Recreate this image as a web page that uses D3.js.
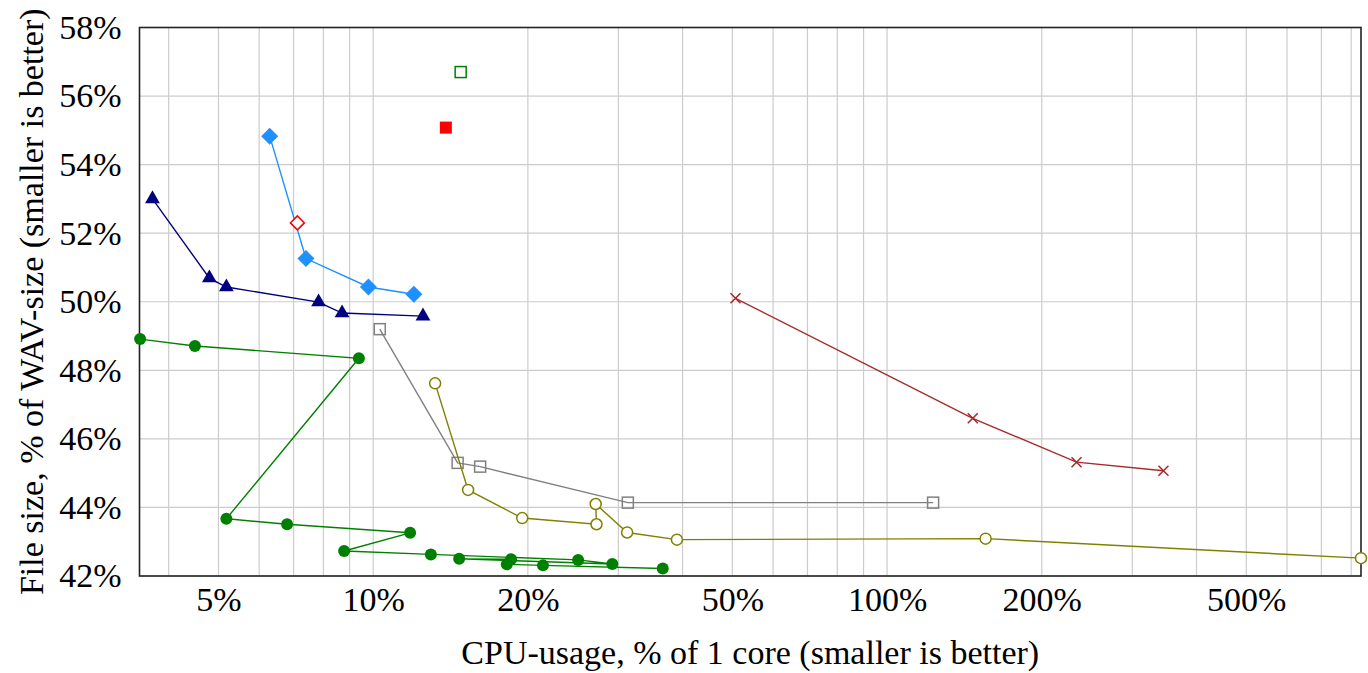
<!DOCTYPE html>
<html>
<head>
<meta charset="utf-8">
<script src="https://cdn.jsdelivr.net/npm/d3@7"></script>
<style>
  html, body { margin: 0; padding: 0; background: #fff; }
  svg { display: block; font-family: "Liberation Serif", "DejaVu Serif", serif; }
</style>
</head>
<body>
<svg id="chart" width="1368" height="673"></svg>
<script>
// ---- Data (CPU usage %, file size % of WAV) ----
const navyTriangleCpu  = [3.72, 4.80, 5.18, 7.83, 8.70, 12.5];
const navyTriangleSize = [53.0, 50.69, 50.43, 49.99, 49.67, 49.58];

const blueDiamondCpu  = [6.29, 7.40, 9.79, 12.0];
const blueDiamondSize = [54.83, 51.26, 50.43, 50.22];

const redOpenDiamondCpu  = [7.12];
const redOpenDiamondSize = [52.30];

const redSquareCpu  = [13.85];
const redSquareSize = [55.08];

const greenOpenSquareCpu  = [14.8];
const greenOpenSquareSize = [56.70];

const greenCircleCpu  = [3.52, 4.50, 9.38, 5.18, 6.80, 11.8, 8.78, 12.95, 25.05, 29.2, 14.7, 18.55, 18.2, 21.4, 36.6];
const greenCircleSize = [48.91, 48.71, 48.35, 43.67, 43.51, 43.26, 42.73, 42.63, 42.47, 42.35, 42.50, 42.49, 42.34, 42.31, 42.22];

const graySquareCpu  = [10.3, 14.6, 16.15, 31.3, 122.9];
const graySquareSize = [49.20, 45.30, 45.19, 44.14, 44.14];

const oliveCircleCpu  = [13.2, 15.3, 19.5, 27.2, 27.1, 31.2, 39.0, 155.5, 836];
const oliveCircleSize = [47.62, 44.51, 43.69, 43.51, 44.10, 43.27, 43.06, 43.09, 42.52];

const brownCrossCpu  = [50.7, 146.8, 233.7, 345];
const brownCrossSize = [50.10, 46.60, 45.32, 45.07];

const xTickValues = [5, 10, 20, 50, 100, 200, 500];
const xGridValues = [4,5,6,7,8,9,10,20,30,40,50,60,70,80,90,100,200,300,400,500,600,700,800];
const yTickValues = [42, 44, 46, 48, 50, 52, 54, 56, 58];
const xDomain = [3.51, 836];
const yDomain = [42, 58];

const xTitle = "CPU-usage, % of 1 core (smaller is better)";
const yTitle = "File size, % of WAV-size (smaller is better)";

// ---- Layout ----
const svg = d3.select("#chart");
const L = 139.5, R = 1361, T = 27.5, B = 576;
const FS = 34;

const x = d3.scaleLog().domain(xDomain).range([L, R]);
const y = d3.scaleLinear().domain(yDomain).range([B, T]);

// grid
const grid = svg.append("g").attr("stroke", "#cccccc").attr("stroke-width", 1.2);
grid.selectAll("line.vx").data(xGridValues).enter().append("line")
  .attr("x1", d => x(d)).attr("x2", d => x(d)).attr("y1", T).attr("y2", B);
grid.selectAll("line.hy").data(yTickValues).enter().append("line")
  .attr("x1", L).attr("x2", R).attr("y1", d => y(d)).attr("y2", d => y(d));

// axes (labels only)
const xAxis = d3.axisBottom(x).tickValues(xTickValues).tickFormat(d => d + "%").tickSize(0).tickPadding(11);
const gx = svg.append("g").attr("transform", `translate(0,${B})`).call(xAxis);
gx.select(".domain").remove();
gx.selectAll("text").attr("font-size", FS).attr("fill", "#000").attr("font-family", "Liberation Serif");

const yAxis = d3.axisLeft(y).tickValues(yTickValues).tickFormat(d => d + "%").tickSize(0).tickPadding(18);
const gy = svg.append("g").attr("transform", `translate(${L},0)`).call(yAxis);
gy.select(".domain").remove();
gy.selectAll("text").attr("font-size", FS).attr("fill", "#000").attr("font-family", "Liberation Serif");

// frame
svg.append("rect").attr("x", L).attr("y", T).attr("width", R - L).attr("height", B - T)
  .attr("fill", "none").attr("stroke", "#222").attr("stroke-width", 1.6);

// titles
svg.append("text").attr("x", (L + R) / 2).attr("y", 664).attr("text-anchor", "middle")
  .attr("font-size", FS).text(xTitle);
svg.append("text").attr("transform", `translate(43,${(T + B) / 2}) rotate(-90)`)
  .attr("text-anchor", "middle").attr("font-size", FS).text(yTitle);

// series helper
const plot = svg.append("g");
function series(xs, ys, color, marker, withLine) {
  const pts = xs.map((v, i) => [x(v), y(ys[i])]);
  if (withLine && pts.length > 1) {
    plot.append("path").attr("d", d3.line()(pts)).attr("fill", "none")
      .attr("stroke", color).attr("stroke-width", 1.4);
  }
  const g = plot.append("g");
  pts.forEach(([px, py]) => {
    switch (marker) {
      case "circleFilled":
        g.append("circle").attr("cx", px).attr("cy", py).attr("r", 6).attr("fill", color); break;
      case "circleOpen":
        g.append("circle").attr("cx", px).attr("cy", py).attr("r", 5.5).attr("fill", "#fff")
          .attr("stroke", color).attr("stroke-width", 1.5); break;
      case "triangle":
        g.append("path").attr("d", d3.symbol().type(d3.symbolTriangle).size(95)())
          .attr("transform", `translate(${px},${py})`).attr("fill", color); break;
      case "diamondFilled":
        g.append("path").attr("d", `M0,-8.5L8.5,0L0,8.5L-8.5,0Z`)
          .attr("transform", `translate(${px},${py})`).attr("fill", color); break;
      case "diamondOpen":
        g.append("path").attr("d", `M0,-7L7,0L0,7L-7,0Z`)
          .attr("transform", `translate(${px},${py})`).attr("fill", "#fff")
          .attr("stroke", color).attr("stroke-width", 1.5); break;
      case "squareFilled":
        g.append("rect").attr("x", px - 6).attr("y", py - 6).attr("width", 12).attr("height", 12).attr("fill", color); break;
      case "squareOpen":
        g.append("rect").attr("x", px - 5.5).attr("y", py - 5.5).attr("width", 11).attr("height", 11)
          .attr("fill", "none").attr("stroke", color).attr("stroke-width", 1.5); break;
      case "cross":
        g.append("path").attr("d", `M-5,-5L5,5M-5,5L5,-5`)
          .attr("transform", `translate(${px},${py})`).attr("stroke", color).attr("stroke-width", 1.5); break;
    }
  });
}

series(greenCircleCpu, greenCircleSize, "#008000", "circleFilled", true);
series(graySquareCpu, graySquareSize, "#808080", "squareOpen", true);
series(oliveCircleCpu, oliveCircleSize, "#808000", "circleOpen", true);
series(brownCrossCpu, brownCrossSize, "#A52A2A", "cross", true);
series(navyTriangleCpu, navyTriangleSize, "#000080", "triangle", true);
series(blueDiamondCpu, blueDiamondSize, "#1E90FF", "diamondFilled", true);
series(redOpenDiamondCpu, redOpenDiamondSize, "#FF0000", "diamondOpen", false);
series(redSquareCpu, redSquareSize, "#FF0000", "squareFilled", false);
series(greenOpenSquareCpu, greenOpenSquareSize, "#008000", "squareOpen", false);
</script>
</body>
</html>
